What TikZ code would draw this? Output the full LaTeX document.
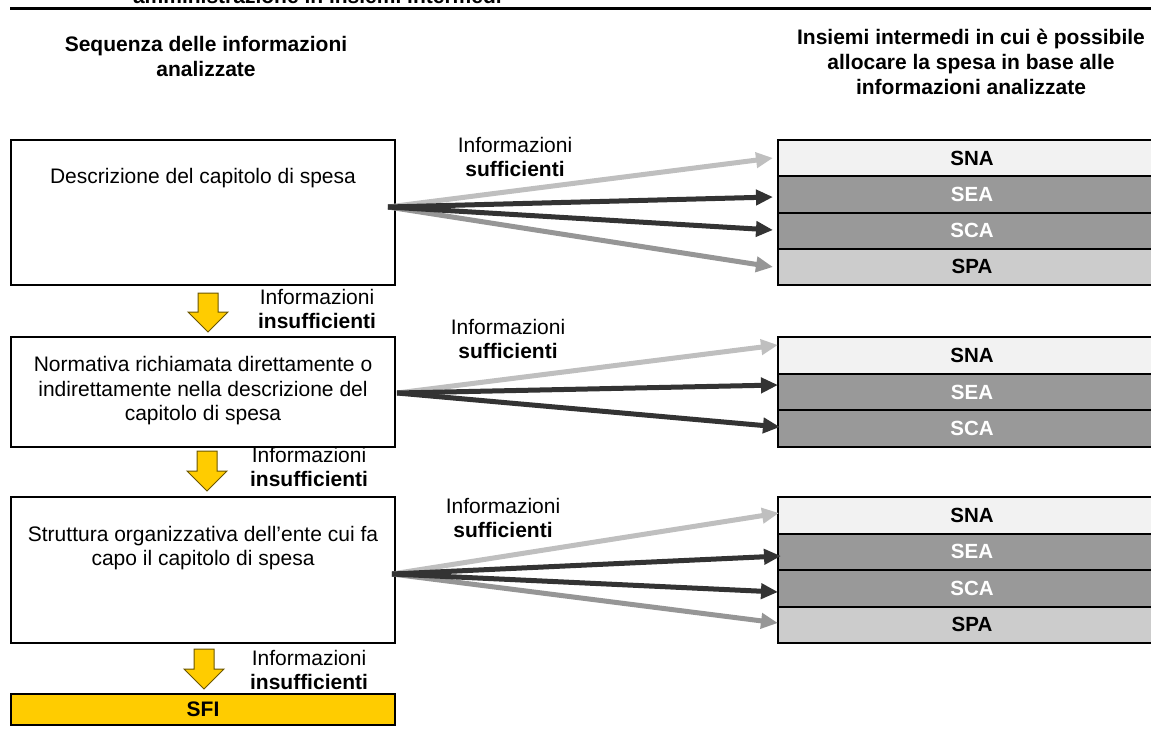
\documentclass[tikz,border=0pt]{standalone}
\usepackage{fontspec}
\setmainfont{Liberation Sans}
\usetikzlibrary{arrows.meta}

\definecolor{snafill}{HTML}{F2F2F2}
\definecolor{seafill}{HTML}{999999}
\definecolor{spafill}{HTML}{CCCCCC}
\definecolor{sfifill}{HTML}{FFCC00}
\definecolor{arlight}{HTML}{BFBFBF}
\definecolor{ardark}{HTML}{333333}
\definecolor{armid}{HTML}{969696}
\definecolor{yedge}{HTML}{6B5600}

\begin{document}
\begin{tikzpicture}[x=1pt,y=-1pt,
  every node/.style={font=\fontsize{21}{24.5}\selectfont, inner sep=0pt, outer sep=0pt},
  stepbox/.style={draw=black, line width=2pt, anchor=north west, minimum width=384pt},
  bodytext/.style={align=center},
  hdr/.style={align=center, font=\fontsize{21}{25}\selectfont\bfseries},
  lbl/.style={align=center, font=\fontsize{21}{23.5}\selectfont},
  rowbox/.style={draw=black, line width=2pt, anchor=north west, minimum width=388pt,
                 font=\fontsize{20.5}{24}\selectfont\bfseries},
  sna/.style={rowbox, fill=snafill, text=black},
  sea/.style={rowbox, fill=seafill, text=white},
  spa/.style={rowbox, fill=spafill, text=black},
  conn/.style={line width=5pt, -{Triangle[length=17pt,width=15pt]}},
  yarrow/.style={fill=sfifill, draw=yedge, line width=1pt, line join=miter}
]
\useasboundingbox (0,0) rectangle (1151,733);

% title tail and rule
\node[anchor=base west, font=\fontsize{21}{24}\selectfont\bfseries] (title) at (133,3.5) {amministrazione in insiemi intermedi};
\draw[line width=2.6pt] (10,8.5) -- (1151,8.5);

% column headers
\node[hdr] (hleft) at (206,56) {Sequenza delle informazioni\\analizzate};
\node[hdr] (hright) at (971,62) {Insiemi intermedi in cui è possibile\\allocare la spesa in base alle\\informazioni analizzate};

% left column: information sources
\node[stepbox, minimum height=145pt] (d1) at (11,140) {};
\node[bodytext] (d1t) at (203,178) {Descrizione del capitolo di spesa};

\node[stepbox, minimum height=110pt] (d2) at (11,337) {};
\node[bodytext] (d2t) at (203,391) {Normativa richiamata direttamente o\\indirettamente nella descrizione del\\capitolo di spesa};

\node[stepbox, minimum height=146pt] (d3) at (11,497) {};
\node[bodytext] (d3t) at (203,548) {Struttura organizzativa dell’ente cui fa\\capo il capitolo di spesa};

\node[stepbox, minimum height=31pt, fill=sfifill, font=\fontsize{21}{24}\selectfont\bfseries] (sfi) at (11,694) {SFI};

% yellow step arrows
\draw[yarrow] (198,293) -- (218,293) -- (218,312) -- (228,312) -- (208,332) -- (188,312) -- (198,312) -- cycle;
\draw[yarrow] (197,451) -- (217,451) -- (217,471) -- (227,471) -- (207,491) -- (187,471) -- (197,471) -- cycle;
\draw[yarrow] (194,649) -- (214,649) -- (214,669) -- (224,669) -- (204,689) -- (184,669) -- (194,669) -- cycle;

% "insufficienti" labels
\node[lbl] (i1) at (317,309) {Informazioni\\\textbf{insufficienti}};
\node[lbl] (i2) at (309,467) {Informazioni\\\textbf{insufficienti}};
\node[lbl] (i3) at (309,670) {Informazioni\\\textbf{insufficienti}};

% right column: stack 1
\node[sna, minimum height=36.25pt] (a1) at (778,140) {SNA};
\node[sea, minimum height=36.25pt] (a2) at (778,176.25) {SEA};
\node[sea, minimum height=36.25pt] (a3) at (778,212.5) {SCA};
\node[spa, minimum height=36.25pt] (a4) at (778,248.75) {SPA};

% right column: stack 2
\node[sna, minimum height=36.67pt] (b1) at (778,337) {SNA};
\node[sea, minimum height=36.67pt] (b2) at (778,373.67) {SEA};
\node[sea, minimum height=36.67pt] (b3) at (778,410.33) {SCA};

% right column: stack 3
\node[sna, minimum height=36.5pt] (c1) at (778,497) {SNA};
\node[sea, minimum height=36.5pt] (c2) at (778,533.5) {SEA};
\node[sea, minimum height=36.5pt] (c3) at (778,570) {SCA};
\node[spa, minimum height=36.5pt] (c4) at (778,606.5) {SPA};

% "sufficienti" labels
\node[lbl] (s1) at (515,157) {Informazioni\\\textbf{sufficienti}};
\node[lbl] (s2) at (508,339) {Informazioni\\\textbf{sufficienti}};
\node[lbl] (s3) at (503,518) {Informazioni\\\textbf{sufficienti}};

% connector origins and tips
\coordinate (o1) at (388,207);
\coordinate (o2) at (397,393);
\coordinate (o3) at (392,574);

\coordinate (t1a) at (773,158);
\coordinate (t1b) at (773,197);
\coordinate (t1c) at (773,230);
\coordinate (t1d) at (773,267);

\coordinate (t2a) at (778,345);
\coordinate (t2b) at (778,385);
\coordinate (t2c) at (780,427);

\coordinate (t3a) at (779,513);
\coordinate (t3b) at (781,556);
\coordinate (t3c) at (778,592);
\coordinate (t3d) at (778,623);

% connectors, stack 1
\draw[conn, arlight] (o1) -- (t1a);
\draw[conn, armid] (o1) -- (t1d);
\draw[conn, ardark] (o1) -- (t1b);
\draw[conn, ardark] (o1) -- (t1c);

% connectors, stack 2
\draw[conn, arlight] (o2) -- (t2a);
\draw[conn, ardark] (o2) -- (t2b);
\draw[conn, ardark] (o2) -- (t2c);

% connectors, stack 3
\draw[conn, arlight] (o3) -- (t3a);
\draw[conn, armid] (o3) -- (t3d);
\draw[conn, ardark] (o3) -- (t3b);
\draw[conn, ardark] (o3) -- (t3c);
\end{tikzpicture}
\end{document}
